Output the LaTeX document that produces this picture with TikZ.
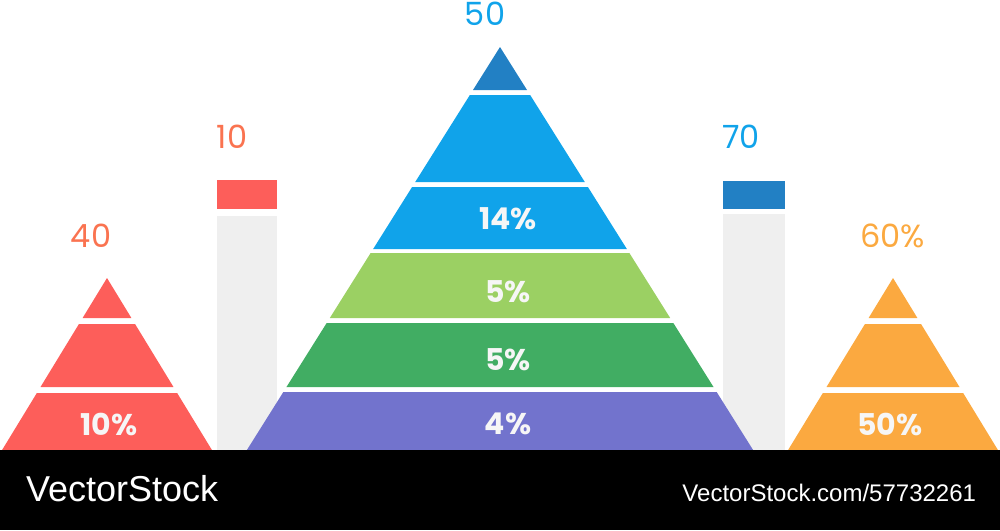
\documentclass[tikz,border=0pt]{standalone}
\usepackage{fontspec}
\setmainfont{Poppins}
\newfontfamily\bandfont{Liberation Sans}
\usetikzlibrary{positioning,calc}
\definecolor{PyrRed}{RGB}{253,94,90}
\definecolor{LabelRed}{RGB}{250,115,80}
\definecolor{DeepBlue}{RGB}{34,128,196}
\definecolor{SkyBlue}{RGB}{16,163,234}
\definecolor{LimeGreen}{RGB}{155,208,99}
\definecolor{LeafGreen}{RGB}{65,173,99}
\definecolor{Violet}{RGB}{114,115,205}
\definecolor{Amber}{RGB}{251,169,64}
\definecolor{BarGray}{RGB}{239,239,239}
\definecolor{PctWhite}{RGB}{246,246,246}

\begin{document}
\begin{tikzpicture}[x=0.5pt, y=-0.5pt, every node/.style={inner sep=0pt, outer sep=0pt, align=center},
  toplabel/.style={font=\fontsize{16}{18}\selectfont},
  pctlabel/.style={font=\fontsize{15}{17}\selectfont\bfseries, text=PctWhite},
  graybar/.style={fill=BarGray, minimum width=30pt},
  capbox/.style={minimum width=30pt, minimum height=14.5pt}]
  \useasboundingbox (0,0) rectangle (1000,530);

  % bars
  \node[graybar, minimum height=117pt] (lbar) at (247,333) {};
  \node[capbox, fill=PyrRed, above=3.5pt of lbar] (lcap) {};
  \node[graybar, minimum width=31pt, minimum height=118pt] (rbar) at (754,332) {};
  \node[capbox, fill=DeepBlue, minimum width=31pt, minimum height=14pt, above=2.5pt of rbar] (rcap) {};

  % centre pyramid
  \fill[DeepBlue] (500,47) -- ({500+43*0.628},90) -- ({500-43*0.628},90) -- cycle;
  \foreach \ya/\yb/\col in {95/182/SkyBlue, 187/249/SkyBlue, 253/318/LimeGreen, 323/387/LeafGreen, 392/450/Violet}
    \fill[\col] ({500-(\ya-47)*0.628},\ya) -- ({500+(\ya-47)*0.628},\ya)
      -- ({500+(\yb-47)*0.628},\yb) -- ({500-(\yb-47)*0.628},\yb) -- cycle;

  % side pyramids
  \foreach \ax/\col in {107/PyrRed, 893/Amber} {
    \fill[\col] (\ax,278) -- ({\ax+40*0.61},318) -- ({\ax-40*0.61},318) -- cycle;
    \foreach \ya/\yb in {324/387, 393/450}
      \fill[\col] ({\ax-(\ya-278)*0.61},\ya) -- ({\ax+(\ya-278)*0.61},\ya)
        -- ({\ax+(\yb-278)*0.61},\yb) -- ({\ax-(\yb-278)*0.61},\yb) -- cycle;
  }

  % values
  \node[toplabel, text=LabelRed] (lbl40) at (91,236) {40};
  \node[toplabel, text=LabelRed] (lbl10) at (232,137) {10};
  \node[toplabel, text=SkyBlue] (lbl50) at (485,14) {50};
  \node[toplabel, text=SkyBlue] (lbl70) at (741,137) {70};
  \node[toplabel, text=Amber, anchor=west] (lbl60) at (860,236) {60\%};

  \node[pctlabel] (pct10) at (109,424) {10\%};
  \node[pctlabel] (pct14) at (508,219) {14\%};
  \node[pctlabel] (pct5a) at (508,292) {5\%};
  \node[pctlabel] (pct5b) at (508,360) {5\%};
  \node[pctlabel] (pct4) at (508,424) {4\%};
  \node[pctlabel] (pct50) at (890,424) {50\%};

  % footer band
  \fill[black] (0,450) rectangle (1000,530);
  \node[font=\bandfont\fontsize{18}{20}\selectfont, text=white, anchor=west] (brand) at (26,489) {VectorStock};
  \node[font=\bandfont\fontsize{12}{14}\selectfont, text=white, anchor=east] (imgid) at (976,493) {VectorStock.com/57732261};
\end{tikzpicture}
\end{document}
